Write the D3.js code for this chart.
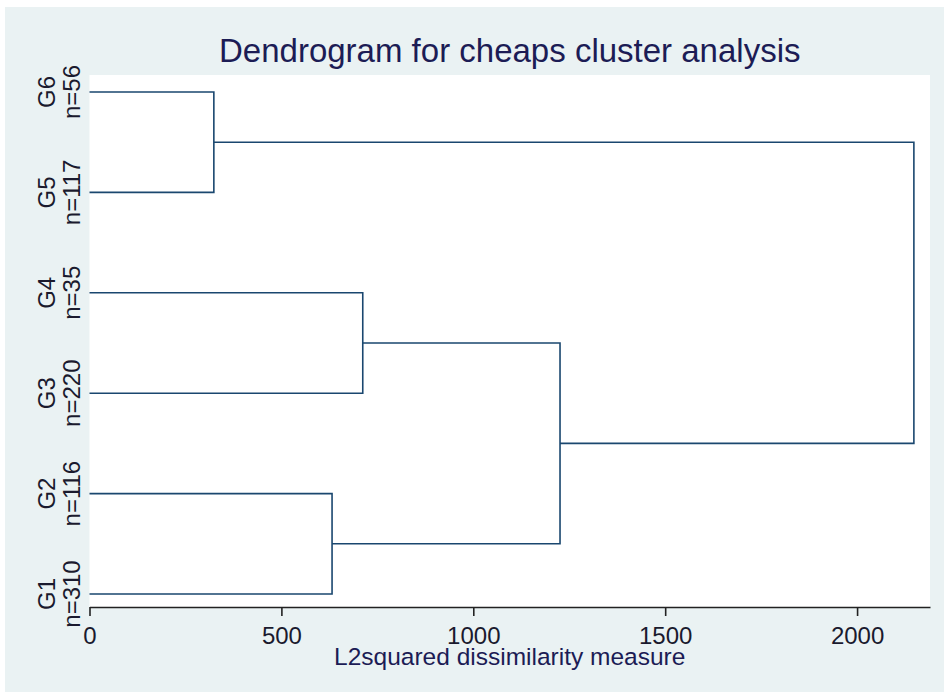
<!DOCTYPE html>
<html>
<head>
<meta charset="utf-8">
<script src="https://cdn.jsdelivr.net/npm/d3@7"></script>
<style>
  body { margin: 0; background: #fff; }
  svg { display: block; font-family: "Liberation Sans", Arial, sans-serif; }
</style>
</head>
<body>
<svg id="dendrogram" width="944" height="692"></svg>
<script>
// leaves, top to bottom
const leaves = ["G6", "G5", "G4", "G3", "G2", "G1"];
const leafCounts = [56, 117, 35, 220, 116, 310];

// merges: id joins a + b at height
const mergeIds = ["C1", "C2", "C3", "C4", "C5"];
const mergeA = ["G6", "G4", "G2", "C2", "C1"];
const mergeB = ["G5", "G3", "G1", "C3", "C4"];
const mergeHeight = [324, 712, 632, 1226, 2148];

const xTicks = [0, 500, 1000, 1500, 2000];

var svg = d3.select("#dendrogram"),
  margin = { top: 75, right: 14, bottom: 85, left: 89.5 },
  width = +svg.attr("width"),
  height = +svg.attr("height");

var ink = "#1a476f";

// graph region
svg.append("rect")
  .attr("x", 5).attr("y", 7)
  .attr("width", width - 5).attr("height", height - 7)
  .attr("fill", "#eaf2f3");

svg.append("rect")
  .attr("x", margin.left).attr("y", margin.top)
  .attr("width", width - margin.right - margin.left)
  .attr("height", height - margin.bottom - margin.top)
  .attr("fill", "#fff");

var x = d3.scaleLinear()
  .domain([0, 2190])
  .range([margin.left, width - margin.right]);

var y = d3.scalePoint()
  .domain(leaves)
  .range([margin.top + 17, height - margin.bottom - 13]);

// positions of every node
var pos = {};
leaves.forEach(function(d) {
  pos[d] = { x: x(0), y: y(d) };
});
mergeIds.forEach(function(id, i) {
  pos[id] = {
    x: x(mergeHeight[i]),
    y: (pos[mergeA[i]].y + pos[mergeB[i]].y) / 2
  };
});

svg.append("g")
  .selectAll("path")
  .data(mergeIds)
  .enter()
  .append("path")
  .attr("fill", "none")
  .attr("stroke", ink)
  .attr("stroke-width", 1.6)
  .attr("d", function(id, i) {
    var a = pos[mergeA[i]], b = pos[mergeB[i]], hx = pos[id].x;
    return "M" + a.x + "," + a.y + "H" + hx + "V" + b.y + "H" + b.x;
  });

// x axis
var axis = svg.append("g")
  .attr("transform", "translate(0," + (height - margin.bottom) + ")")
  .call(
    d3.axisBottom(x)
      .tickValues(xTicks)
      .tickFormat(d3.format("d"))
      .tickSize(9)
      .tickSizeOuter(0)
  );

axis.select(".domain").attr("stroke", "#222").attr("stroke-width", 1.6);
axis.selectAll(".tick line").attr("stroke", "#222").attr("stroke-width", 1.6);
axis.selectAll(".tick text")
  .attr("y", 37).attr("dy", 0)
  .attr("font-size", 24)
  .attr("font-family", "Liberation Sans, Arial, sans-serif")
  .attr("fill", "#1a1a2e");

svg.append("text")
  .attr("x", (margin.left + width - margin.right) / 2)
  .attr("y", 665)
  .attr("text-anchor", "middle")
  .attr("font-size", 24.5)
  .attr("fill", "#1c1c55")
  .text("L2squared dissimilarity measure");

// leaf labels
var labels = svg.append("g")
  .selectAll("g")
  .data(leaves)
  .enter()
  .append("g")
  .attr("transform", function(d) {
    return "translate(0," + y(d) + ") rotate(-90)";
  });

labels.append("text")
  .attr("x", 0).attr("y", 55)
  .attr("text-anchor", "middle")
  .attr("font-size", 24)
  .attr("fill", "#1a1a2e")
  .text(function(d) { return d; });

labels.append("text")
  .attr("x", 0).attr("y", 80)
  .attr("text-anchor", "middle")
  .attr("font-size", 24)
  .attr("fill", "#1a1a2e")
  .text(function(d, i) { return "n=" + leafCounts[i]; });

// title
svg.append("text")
  .attr("x", (margin.left + width - margin.right) / 2)
  .attr("y", 62)
  .attr("text-anchor", "middle")
  .attr("font-size", 33)
  .attr("fill", "#1c1c55")
  .text("Dendrogram for cheaps cluster analysis");
</script>
</body>
</html>
